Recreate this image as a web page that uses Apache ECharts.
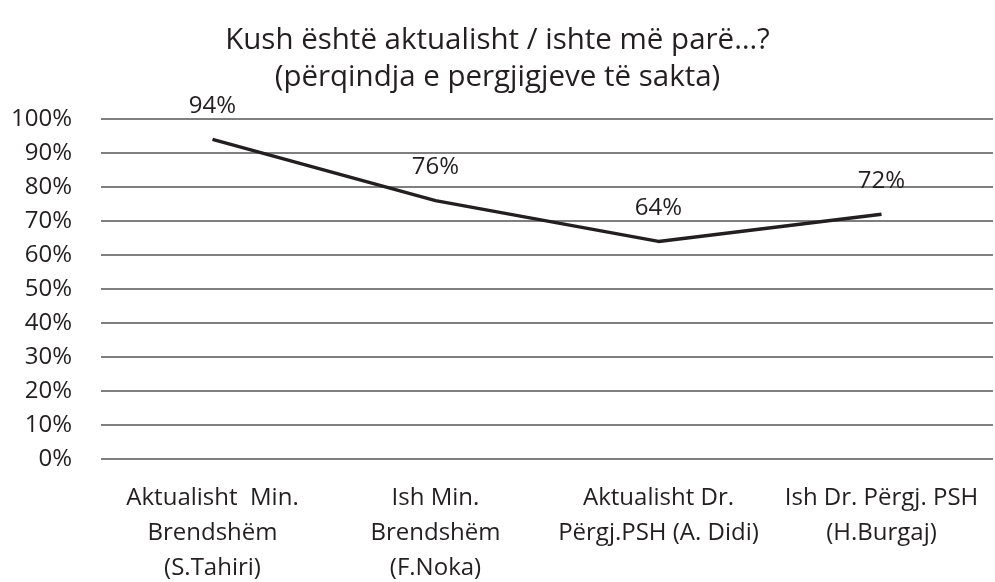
<!DOCTYPE html>
<html>
<head>
<meta charset="utf-8">
<script src="https://cdn.jsdelivr.net/npm/echarts@6/dist/echarts.min.js"></script>
<style>
    html, body { margin: 0; padding: 0; background: #fff; }
    #chart { width: 995px; height: 582px; }
</style>
</head>
<body>
<div id="chart"></div>
<script>
// kategorite dhe vlerat (%)
const categories = [
    'Aktualisht  Min.\nBrendshëm\n(S.Tahiri)',
    'Ish Min.\nBrendshëm\n(F.Noka)',
    'Aktualisht Dr.\nPërgj.PSH (A. Didi)',
    'Ish Dr. Përgj. PSH\n(H.Burgaj)'
];
const correctAnswers = [94, 76, 64, 72];

const chart = echarts.init(document.getElementById('chart'));
const textColor = '#231f20';
const font = '"Open Sans", sans-serif';

chart.setOption({
    animation: false,
    title: {
        text: 'Kush është aktualisht / ishte më parë…?\n(përqindja e pergjigjeve të sakta)',
        left: 'center',
        top: 17,
        textStyle: {
            fontFamily: font,
            fontWeight: 'normal',
            fontSize: 29.5,
            lineHeight: 37,
            color: textColor
        }
    },
    grid: {
        left: 101,
        right: 2,
        top: 119,
        bottom: 123,
        outerBoundsMode: 'none'
    },
    xAxis: {
        type: 'category',
        data: categories,
        axisLine: { show: false },
        axisTick: { show: false },
        axisLabel: {
            margin: 22,
            interval: 0,
            fontFamily: font,
            fontSize: 24,
            lineHeight: 35,
            color: textColor
        }
    },
    yAxis: {
        type: 'value',
        min: 0,
        max: 100,
        interval: 10,
        axisLine: { show: false },
        axisTick: { show: false },
        axisLabel: {
            formatter: '{value}%',
            margin: 29,
            fontFamily: font,
            fontSize: 24,
            color: textColor
        },
        splitLine: {
            lineStyle: { color: '#555555', width: 1.5 }
        }
    },
    series: [{
        type: 'line',
        data: correctAnswers,
        symbol: 'circle',
        symbolSize: 0,
        showSymbol: true,
        lineStyle: { color: textColor, width: 3.5 },
        itemStyle: { color: textColor },
        label: {
            show: true,
            position: 'top',
            distance: 21,
            formatter: '{c}%',
            fontFamily: font,
            fontSize: 24,
            color: textColor
        }
    }]
});
</script>
</body>
</html>
